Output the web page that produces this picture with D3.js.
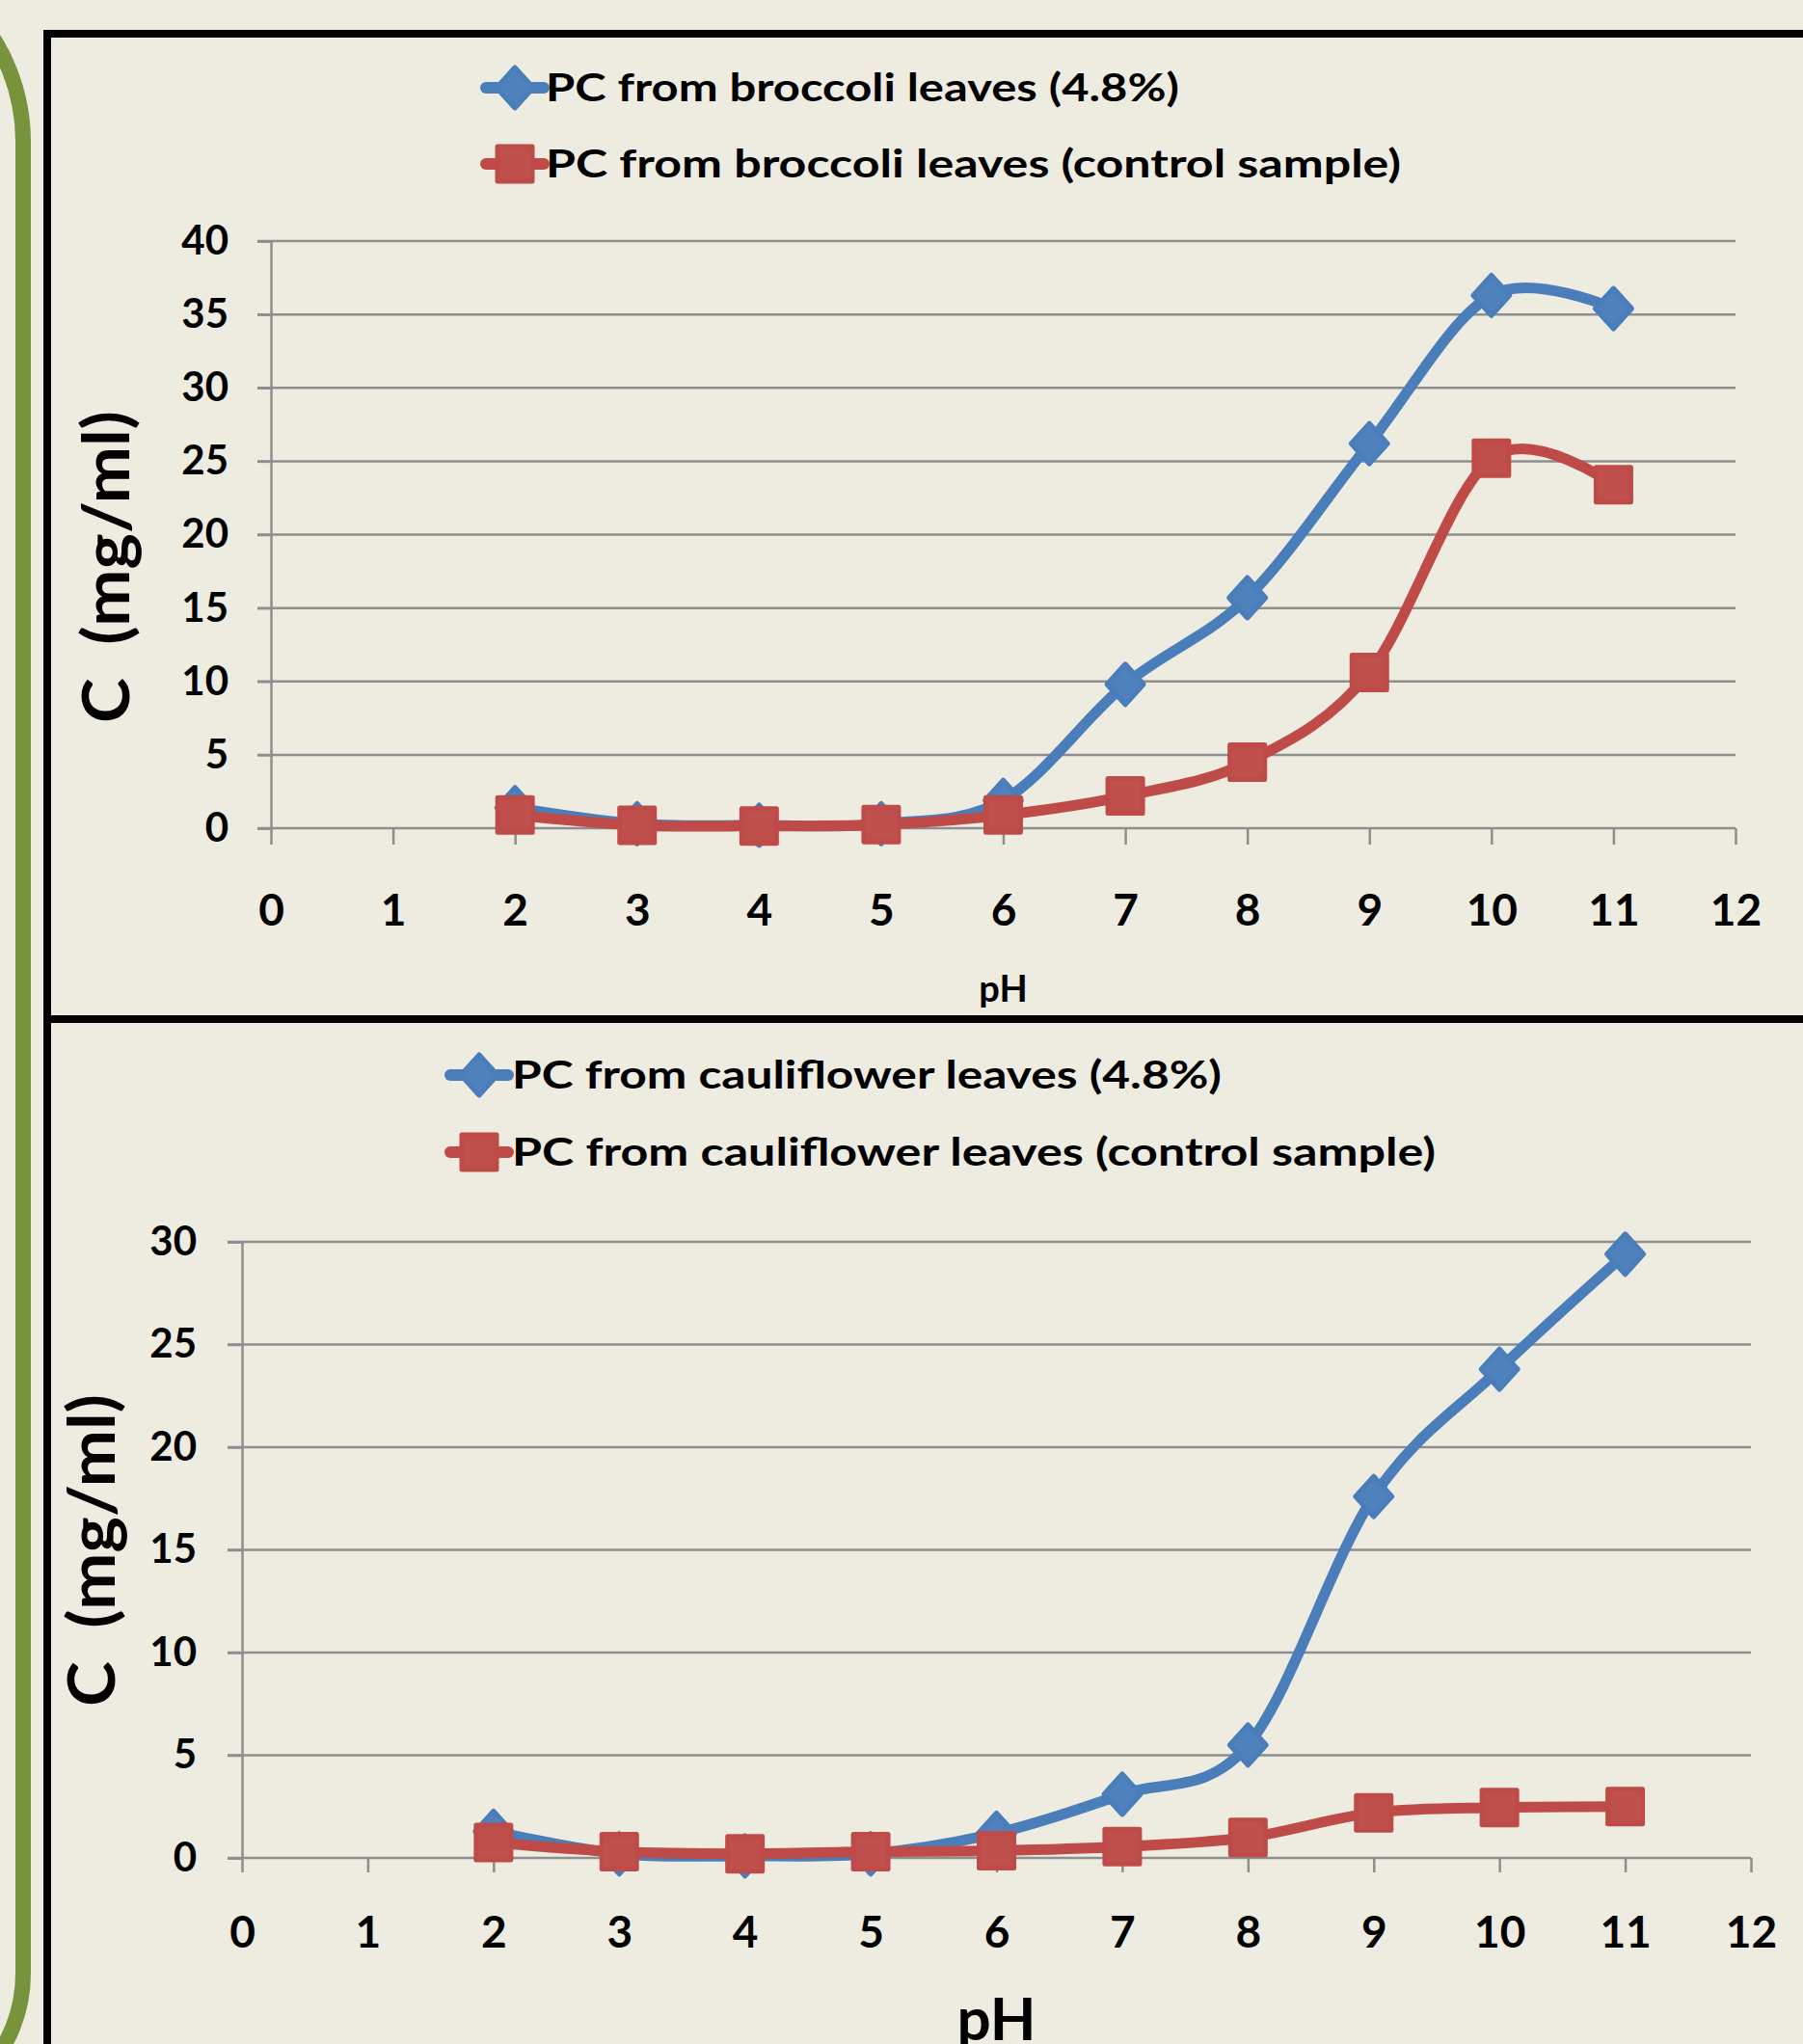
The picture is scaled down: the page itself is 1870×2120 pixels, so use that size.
<!DOCTYPE html>
<html>
<head>
<meta charset="utf-8">
<script src="https://cdn.jsdelivr.net/npm/d3@7"></script>
<style>
  html, body { margin: 0; padding: 0; background: #EEEBE0; }
  svg { display: block; }
  text { font-family: Lato, "Open Sans", sans-serif; font-weight: 700; fill: #000; }
</style>
</head>
<body>
<svg id="chart" width="1870" height="2120"></svg>
<script>
// ---------- data ----------
const pH = [2, 3, 4, 5, 6, 7, 8, 9, 10, 11];
const broccoli48 = [1.4, 0.3, 0.2, 0.3, 1.9, 9.8, 15.7, 26.2, 36.3, 35.4];
const broccoliControl = [0.9, 0.2, 0.15, 0.25, 0.9, 2.2, 4.5, 10.6, 25.2, 23.4];
const cauliflower48 = [1.3, 0.2, 0.1, 0.2, 1.2, 3.1, 5.5, 17.6, 23.8, 29.4];
const cauliflowerControl = [0.75, 0.3, 0.2, 0.3, 0.35, 0.55, 1.0, 2.2, 2.45, 2.5];
const xTicks = [0, 1, 2, 3, 4, 5, 6, 7, 8, 9, 10, 11, 12];
const yTicksTop = [0, 5, 10, 15, 20, 25, 30, 35, 40];
const yTicksBottom = [0, 5, 10, 15, 20, 25, 30];
const legendTop = ["PC from broccoli leaves (4.8%)", "PC from broccoli leaves (control sample)"];
const legendBottom = ["PC from cauliflower leaves (4.8%)", "PC from cauliflower leaves (control sample)"];
const yTitle = "C  (mg/ml)";
const xTitle = "pH";

const BLUE = "#4A7EBB", BLUE_FILL = "#4F81BD";
const RED = "#BE4B48", RED_FILL = "#C0504D";
const GRID = "#8E8E8E";

const svg = d3.select("#chart");

// background
svg.append("rect").attr("width", 1870).attr("height", 2120).attr("fill", "#EEEBE0");

// green rounded border (right edge of a rounded frame)
svg.append("path")
  .attr("d", "M -176 -53 A 200 200 0 0 1 24 147 L 24 2047 A 150 150 0 0 1 -126 2197")
  .attr("fill", "none").attr("stroke", "#77933C").attr("stroke-width", 16);

// black frame lines
svg.append("path")
  .attr("d", "M 49 2130 L 49 35 L 1880 35 M 49 1057 L 1880 1057")
  .attr("fill", "none").attr("stroke", "#000").attr("stroke-width", 8);

function diamond(g, cx, cy) {
  g.append("path")
    .attr("d", `M ${cx} ${cy - 21} L ${cx + 19} ${cy} L ${cx} ${cy + 21} L ${cx - 19} ${cy} Z`)
    .attr("fill", BLUE_FILL).attr("stroke", BLUE).attr("stroke-width", 5).attr("stroke-linejoin", "round");
}
function square(g, cx, cy) {
  g.append("rect")
    .attr("x", cx - 18).attr("y", cy - 18).attr("width", 36).attr("height", 36)
    .attr("fill", RED_FILL).attr("stroke", RED).attr("stroke-width", 5).attr("stroke-linejoin", "round");
}

function panel(cfg) {
  const g = svg.append("g");
  const x = d3.scaleLinear().domain([0, 12]).range([cfg.x0, cfg.x1]);
  const y = d3.scaleLinear().domain([0, cfg.yMax]).range([cfg.y0, cfg.y1]);

  // gridlines
  g.append("g").selectAll("line").data(cfg.yTicks.filter(d => d > 0)).join("line")
    .attr("x1", cfg.x0 - cfg.yTickLen).attr("x2", cfg.x1)
    .attr("y1", d => y(d)).attr("y2", d => y(d))
    .attr("stroke", GRID).attr("stroke-width", 2.5);

  // y axis
  const ya = g.append("g").attr("transform", `translate(${cfg.x0},0)`)
    .call(d3.axisLeft(y).tickValues(cfg.yTicks).tickSize(cfg.yTickLen).tickPadding(cfg.yPad).tickFormat(d3.format("d")));
  ya.select(".domain").attr("stroke", GRID).attr("stroke-width", 2.5);
  ya.selectAll(".tick line").attr("stroke", GRID).attr("stroke-width", 2.5);
  ya.selectAll("text").style("font-size", "42px").style("font-family", "Lato").style("font-weight", 700).attr("fill", "#000");

  // x axis
  const xa = g.append("g").attr("transform", `translate(0,${cfg.y0})`)
    .call(d3.axisBottom(x).tickValues(xTicks).tickSize(cfg.xTickLen).tickFormat(d3.format("d")));
  xa.select(".domain").attr("d", `M ${cfg.x0 - cfg.yTickLen} 0 H ${cfg.x1}`).attr("stroke", GRID).attr("stroke-width", 2.5);
  xa.selectAll(".tick line").attr("stroke", GRID).attr("stroke-width", 2.5);
  xa.selectAll("text").attr("y", cfg.xLabelOff).attr("dy", "0.36em")
    .style("font-size", "46px").style("font-family", "Lato").style("font-weight", 700).attr("fill", "#000");

  // lines
  const line = d3.line().x((d, i) => x(pH[i])).y(d => y(d)).curve(d3.curveCardinal.tension(0));
  g.append("path").datum(cfg.s1).attr("d", line)
    .attr("fill", "none").attr("stroke", BLUE).attr("stroke-width", 11).attr("stroke-linecap", "round").attr("stroke-linejoin", "round");
  const m1 = g.append("g");
  cfg.s1.forEach((v, i) => diamond(m1, x(pH[i]), y(v)));
  g.append("path").datum(cfg.s2).attr("d", line)
    .attr("fill", "none").attr("stroke", RED).attr("stroke-width", 11).attr("stroke-linecap", "round").attr("stroke-linejoin", "round");
  const m2 = g.append("g");
  cfg.s2.forEach((v, i) => square(m2, x(pH[i]), y(v)));

  // legend
  cfg.legend.forEach((lab, i) => {
    const ly = cfg.legY[i];
    g.append("line").attr("x1", cfg.legX - 30).attr("x2", cfg.legX + 30).attr("y1", ly).attr("y2", ly)
      .attr("stroke", i === 0 ? BLUE : RED).attr("stroke-width", 12).attr("stroke-linecap", "round");
    if (i === 0) diamond(g, cfg.legX, ly); else square(g, cfg.legX, ly);
    g.append("text").attr("x", cfg.legTextX).attr("y", ly + 14)
      .attr("textLength", cfg.legW[i]).attr("lengthAdjust", "spacingAndGlyphs")
      .style("font-size", "41px").text(lab);
  });

  // axis titles
  g.append("text").attr("transform", `translate(${cfg.yTitleX},${cfg.yTitleY}) rotate(-90)`)
    .attr("text-anchor", "middle").style("font-size", "66px").style("white-space", "pre")
    .attr("textLength", 324).attr("lengthAdjust", "spacingAndGlyphs").text(yTitle);
  g.append("text").attr("x", (cfg.x0 + cfg.x1) / 2).attr("y", cfg.xTitleY)
    .attr("text-anchor", "middle").style("font-size", cfg.xTitleSize + "px").text(xTitle);
}

panel({
  x0: 281, x1: 1800, y0: 859, y1: 250, yMax: 40, yTicks: yTicksTop,
  yTickLen: 14, yPad: 30, xTickLen: 17, xLabelOff: 84,
  s1: broccoli48, s2: broccoliControl,
  legend: legendTop, legX: 534, legY: [91, 170], legTextX: 566, legW: [657, 887],
  yTitleX: 134, yTitleY: 588, xTitleY: 1039, xTitleSize: 38
});

panel({
  x0: 251, x1: 1816, y0: 1927, y1: 1288, yMax: 30, yTicks: yTicksBottom,
  yTickLen: 15, yPad: 32, xTickLen: 15, xLabelOff: 76,
  s1: cauliflower48, s2: cauliflowerControl,
  legend: legendBottom, legX: 497, legY: [1115, 1195], legTextX: 531, legW: [736, 958],
  yTitleX: 119, yTitleY: 1608, xTitleY: 2116, xTitleSize: 62
});
</script>
</body>
</html>
